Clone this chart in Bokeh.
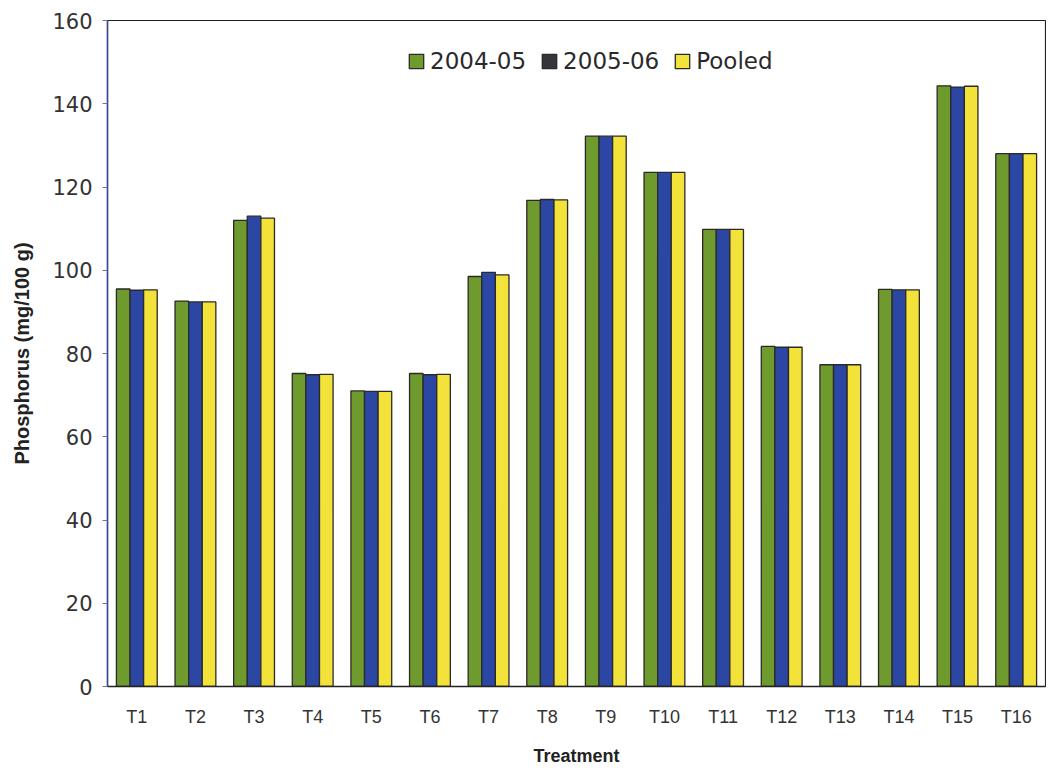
from bokeh.plotting import figure
from bokeh.models import ColumnDataSource, FactorRange, Legend, LegendItem, FixedTicker
from bokeh.transform import dodge
from bokeh.embed import file_html
from bokeh.resources import INLINE

treatments = ["T1", "T2", "T3", "T4", "T5", "T6", "T7", "T8",
              "T9", "T10", "T11", "T12", "T13", "T14", "T15", "T16"]
y2004_05 = [95.5, 92.6, 112.0, 75.2, 71.0, 75.2, 98.5, 116.8,
            132.2, 123.5, 109.8, 81.7, 77.3, 95.4, 144.3, 128.0]
y2005_06 = [95.2, 92.4, 113.0, 74.9, 70.9, 74.9, 99.5, 117.0,
            132.2, 123.5, 109.8, 81.5, 77.3, 95.3, 144.0, 128.0]
pooled = [95.3, 92.4, 112.5, 75.0, 70.9, 75.0, 98.9, 116.9,
          132.2, 123.5, 109.8, 81.5, 77.3, 95.3, 144.2, 128.0]
series_names = ["2004-05", "2005-06", "Pooled"]
colors = ["#6f9a2e", "#2b46a3", "#f2e23a"]
legend_colors = ["#6f9a2e", "#35363c", "#f2e23a"]
y_ticks = [0, 20, 40, 60, 80, 100, 120, 140, 160]

src = ColumnDataSource(dict(t=treatments, a=y2004_05, b=y2005_06, c=pooled))

p = figure(x_range=FactorRange(*treatments, range_padding=0), y_range=(0, 160),
           width=1046, height=768, output_backend="svg", toolbar_location=None,
           min_border_left=107, min_border_right=1, min_border_top=20, min_border_bottom=81)

w = 0.232
legend_renderers = []
for key, off, col, lcol in zip(["a", "b", "c"], [-w, 0, w], colors, legend_colors):
    p.vbar(x=dodge("t", off, range=p.x_range), top=key, width=w, source=src,
           fill_color=col, line_color="#2a2a2a", line_width=1.3)
    lr = p.vbar(x=dodge("t", off, range=p.x_range), top=key, width=w, source=src,
                fill_color=lcol, line_color="#2a2a2a", line_width=1.3, visible=False)
    legend_renderers.append(lr)

legend = Legend(items=[LegendItem(label=n, renderers=[r]) for n, r in zip(series_names, legend_renderers)],
                orientation="horizontal", location=(300, 612),
                label_text_font="DejaVu Sans", label_text_font_size="23px",
                label_text_color="#2a2a2a", glyph_width=18, glyph_height=18,
                spacing=14, label_standoff=5, padding=4, margin=0,
                background_fill_alpha=0, border_line_color=None)
p.add_layout(legend)

p.xgrid.grid_line_color = None
p.ygrid.grid_line_color = None
p.outline_line_color = "#222222"
p.outline_line_width = 1.2
p.background_fill_color = "white"

p.yaxis.ticker = FixedTicker(ticks=y_ticks)
p.yaxis.axis_label = "Phosphorus (mg/100 g)"
p.yaxis.axis_label_text_font = "Liberation Sans"
p.yaxis.axis_label_text_font_style = "bold"
p.yaxis.axis_label_text_font_size = "20px"
p.yaxis.axis_label_text_color = "#222222"
p.yaxis.axis_label_standoff = 16
p.yaxis.major_label_text_font = "DejaVu Sans"
p.yaxis.major_label_text_font_size = "21px"
p.yaxis.major_label_text_color = "#333333"
p.yaxis.major_label_standoff = 10
p.yaxis.axis_line_color = "#34479a"
p.yaxis.axis_line_width = 1.5
p.yaxis.major_tick_line_color = "#777777"
p.yaxis.major_tick_out = 5
p.yaxis.major_tick_in = 0
p.yaxis.minor_tick_line_color = None

p.xaxis.axis_label = "Treatment"
p.xaxis.axis_label_text_font = "Liberation Sans"
p.xaxis.axis_label_text_font_style = "bold"
p.xaxis.axis_label_text_font_size = "18px"
p.xaxis.axis_label_text_color = "#222222"
p.xaxis.axis_label_standoff = 16
p.xaxis.major_label_text_font = "Liberation Sans"
p.xaxis.major_label_text_font_size = "18px"
p.xaxis.major_label_text_color = "#333333"
p.xaxis.major_label_standoff = 14
p.xaxis.axis_line_color = "#222222"
p.xaxis.axis_line_width = 1.5
p.xaxis.major_tick_line_color = None
p.xaxis.minor_tick_line_color = None

open("out.html", "w").write(file_html(p, INLINE))
